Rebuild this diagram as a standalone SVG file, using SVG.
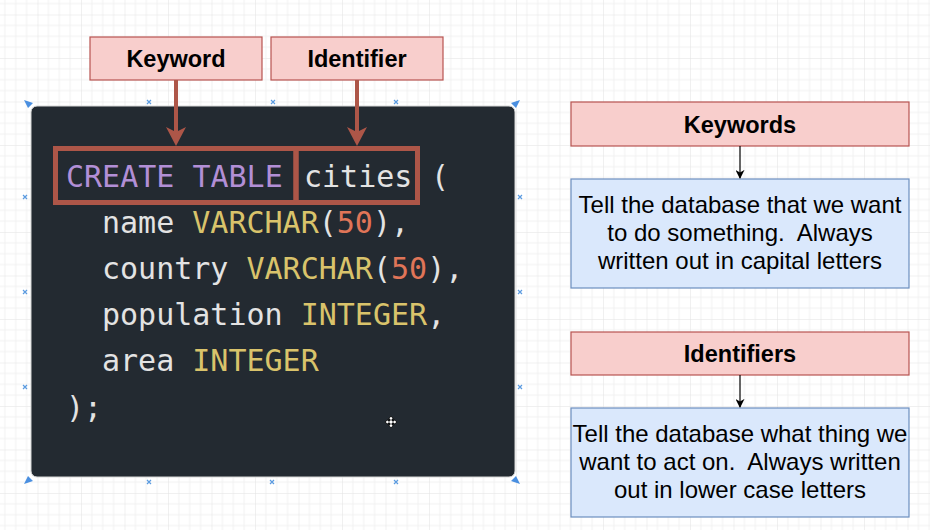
<svg xmlns="http://www.w3.org/2000/svg" width="930" height="530" viewBox="0 0 930 530">
<style>
.lbl{font-family:"Liberation Sans",Arial,sans-serif;font-size:23.5px;fill:#000;text-anchor:middle}
.d{font-size:24px}
.b{font-weight:bold}
.red{fill:#f8cecc;stroke:#b85450;stroke-width:1.2}
.blue{fill:#dae8fc;stroke:#6c8ebf;stroke-width:1.2}
.code{font-family:"DejaVu Sans Mono","Liberation Mono",monospace;font-size:30px;fill:#e3e3e3}
.kw{fill:#b28fd6}
.ty{fill:#d9c36b}
.num{fill:#e07558}
.hl{fill:none;stroke:#ad5648;stroke-width:5}
.sel{stroke:#5b9be0;stroke-width:1.2;fill:none}
</style>
<defs>
<pattern id="grid" x="37.5" y="14.5" width="43.5" height="43.5" patternUnits="userSpaceOnUse">
<path d="M10.875 0V43.5M21.75 0V43.5M32.625 0V43.5M0 10.875H43.5M0 21.75H43.5M0 32.625H43.5" stroke="#f1f1f1" stroke-width="1"/>
<path d="M0 0V43.5M0 0H43.5" stroke="#e2e2e2" stroke-width="1"/>
</pattern>
<marker id="thin" viewBox="0 0 10 10" refX="9" refY="5" markerWidth="9" markerHeight="9" markerUnits="userSpaceOnUse" orient="auto">
<path d="M0 0L10 5L0 10L3 5Z" fill="#000"/>
</marker>
</defs>
<rect width="930" height="530" fill="#fff"/>
<rect width="930" height="530" fill="url(#grid)"/>

<g id="code-panel">
<rect x="31" y="106" width="484" height="371" rx="6" fill="#232a31" stroke="#d6d6d6" stroke-width="1"/>
<text class="code" x="66" y="187" xml:space="preserve"><tspan class="kw">CREATE TABLE</tspan> <tspan x="304">cities</tspan> <tspan x="431">(</tspan></text>
<text class="code" x="102" y="233" xml:space="preserve">name <tspan class="ty">VARCHAR</tspan>(<tspan class="num">50</tspan>),</text>
<text class="code" x="102" y="279" xml:space="preserve">country <tspan class="ty">VARCHAR</tspan>(<tspan class="num">50</tspan>),</text>
<text class="code" x="102" y="325" xml:space="preserve">population <tspan class="ty">INTEGER</tspan>,</text>
<text class="code" x="102" y="371" xml:space="preserve">area <tspan class="ty">INTEGER</tspan></text>
<text class="code" x="66" y="418">);</text>
<g transform="translate(391 422)" fill="#fff" stroke="#000" stroke-width="0.8">
<path d="M0 -6L2.5 -3H1V-1H3V-2.5L6 0L3 2.5V1H1V3H2.5L0 6L-2.5 3H-1V1H-3V2.5L-6 0L-3 -2.5V-1H-1V-3H-2.5Z"/>
</g>
</g>

<g id="selection">
<path class="sel" d="M147 100l4 4M151 100l-4 4M271 100l4 4M275 100l-4 4M394 100l4 4M398 100l-4 4M147 480l4 4M151 480l-4 4M270 480l4 4M274 480l-4 4M394 480l4 4M398 480l-4 4M23 195l4 4M27 195l-4 4M23 290l4 4M27 290l-4 4M23 385l4 4M27 385l-4 4M518 195l4 4M522 195l-4 4M518 290l4 4M522 290l-4 4M518 385l4 4M522 385l-4 4"/>
<path d="M24 100L33 103L28 108Z M520 100L511 103L516 108Z M24 484L33 481L28 476Z M520 484L511 481L516 476Z" fill="#4a8fe0"/>
</g>

<g id="highlight-keyword"><rect class="hl" x="55.5" y="148.5" width="240.5" height="54"/></g>
<g id="highlight-identifier"><rect class="hl" x="296" y="148.5" width="121.5" height="54"/></g>

<g id="node-keyword">
<rect class="red" x="90" y="37" width="172" height="43"/>
<text class="lbl b" x="176" y="67">Keyword</text>
</g>
<g id="node-identifier">
<rect class="red" x="271" y="37" width="172" height="43"/>
<text class="lbl b" x="357" y="67">Identifier</text>
</g>

<g id="node-keywords">
<rect class="red" x="571" y="102" width="338" height="44"/>
<text class="lbl b" x="740" y="133">Keywords</text>
</g>
<g id="node-keywords-desc">
<rect class="blue" x="571" y="179" width="338" height="109"/>
<text class="lbl d" x="740" y="213" xml:space="preserve">Tell the database that we want</text>
<text class="lbl d" x="740" y="241" xml:space="preserve">to do something.  Always</text>
<text class="lbl d" x="740" y="269" xml:space="preserve">written out in capital letters</text>
</g>
<g id="node-identifiers">
<rect class="red" x="571" y="332" width="338" height="43"/>
<text class="lbl b" x="740" y="362">Identifiers</text>
</g>
<g id="node-identifiers-desc">
<rect class="blue" x="571" y="408" width="338" height="109"/>
<text class="lbl d" x="740" y="442" xml:space="preserve">Tell the database what thing we</text>
<text class="lbl d" x="740" y="470" xml:space="preserve">want to act on.  Always written</text>
<text class="lbl d" x="740" y="498" xml:space="preserve">out in lower case letters</text>
</g>

<g id="connectors">
<path d="M176 80V132M357 80V132" stroke="#ad5648" stroke-width="4" fill="none"/>
<path d="M176 146L166 127L176 132L186 127Z M357 146L347 127L357 132L367 127Z" fill="#ad5648"/>
<path d="M740 146V178" stroke="#000" stroke-width="1.2" marker-end="url(#thin)"/>
<path d="M740 375V407" stroke="#000" stroke-width="1.2" marker-end="url(#thin)"/>
</g>
</svg>
